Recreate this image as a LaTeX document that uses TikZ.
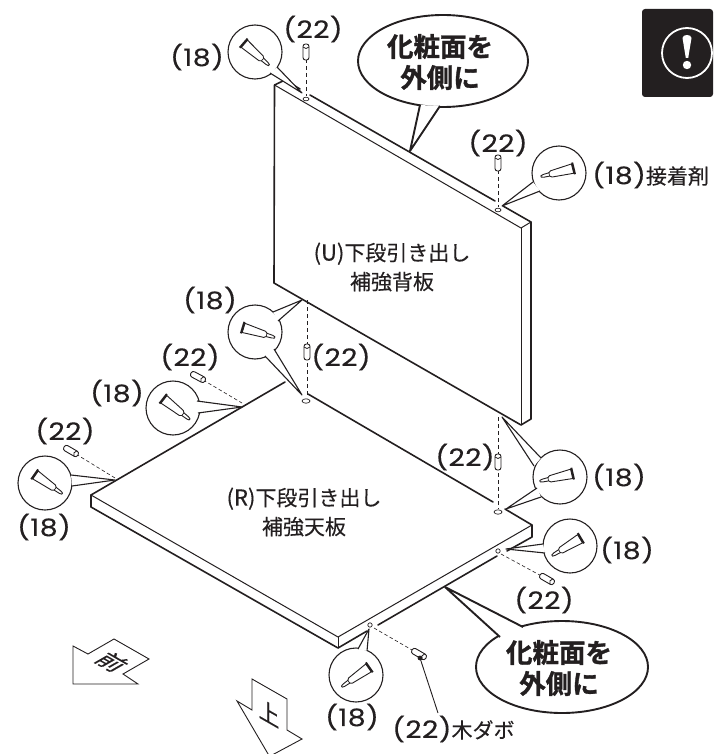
\documentclass[tikz,border=0pt]{standalone}
\usepackage{fontspec}
\setmainfont[FakeStretch=1.18,FakeBold=0.15,LetterSpace=1.5]{Poppins}
\newfontfamily\jp[FakeBold=0.25]{Noto Sans CJK JP}
\newfontfamily\jpb[FakeBold=1.2]{Noto Sans CJK JP Bold}
\newcommand\dg{\fontsize{24}{24}\selectfont}
\newcommand\jt[1]{{\fontsize{21}{24}\selectfont\jp #1}}
\definecolor{ink}{HTML}{231F20}
\tikzset{
  lab/.style={inner sep=0pt,text=ink,font=\dg},
  jlab/.style={inner sep=0pt,text=ink,font=\fontsize{21}{29}\selectfont\jp,align=center},
  bold/.style={inner sep=0pt,text=ink,font=\fontsize{26.5}{31}\selectfont\jpb,align=center},
  heavy/.style={draw=ink,line width=1.6pt,line cap=round,line join=round},
  thin/.style={draw=ink,line width=1pt,line cap=round,line join=round},
  bub/.style={draw=ink,line width=1.1pt,line join=round},
  big/.style={draw=ink,line width=1.9pt,line join=round},
  dashv/.style={draw=ink,line width=.8pt,dash pattern=on 4pt off 3pt},
  dashf/.style={draw=ink,line width=.6pt,dash pattern=on 3.5pt off 2.5pt},
  tube/.pic={
    \draw[draw=ink,line width=.9pt,fill=white,line join=round]
      (-14,-4.8) -- (8,-3.2) -- (10,-1.7) -- (16,-1.4) -- (18.5,-.7) -- (18.5,.7) -- (16,1.4) -- (10,1.7) -- (8,3.2) -- (-14,4.8) -- cycle;
    \draw[draw=ink,line width=.7pt] (10,-1.7) -- (10,1.7);
    \draw[draw=ink,line width=2pt] (-15,-6) -- (-15,6);
  },
  dowel/.pic={
    \draw[draw=ink,line width=.9pt,fill=white,rounded corners=2.5pt] (-8,-3) rectangle (8,3);
    \draw[draw=ink,line width=.8pt] (5,-3) .. controls (3,-1.5) and (3,1.5) .. (5,3);
  }
}
\newcommand\tailshape[3]{\fill[white] #1 -- #2 -- #3 -- cycle; \draw[bub] #1 -- #2 -- #3;}
\newcommand\glass[2]{\draw[bub,fill=white] #1 circle[radius=27];}
\begin{document}
\begin{tikzpicture}[x=1pt,y=-1pt]
\useasboundingbox (0,0) rectangle (713,754);
\clip (0,0) rectangle (713,754);

% warning icon
\fill[ink,rounded corners=3pt] (642,9) rectangle (713,97);
\draw[white,line width=1.8pt] (687,53) circle[radius=25];
\fill[white] (682.5,38) .. controls (682.5,34) and (691.5,34) .. (691.5,38) -- (688.2,58) -- (685.8,58) -- cycle;
\fill[white] (687,65) circle[radius=4.2];

% back board U
\draw[heavy] (285,80) -- (300,89);
\draw[heavy] (310,95) -- (495,201);
\draw[heavy] (503,206) -- (531,222) -- (531,419) -- (521,425) -- (274,283) -- (274.5,85) -- (285,80);
\draw[thin] (274.5,85) -- (521,228) -- (531,222);
\draw[thin] (521,228) -- (521,425);

% table board R
\draw[heavy] (91,495) -- (285,382);
\draw[heavy] (308,394) -- (493,502);
\draw[heavy] (505,509) -- (532,525) -- (532,537) -- (507,551);
\draw[heavy] (497,556) -- (378,625);
\draw[heavy] (367,631) -- (338,648) -- (91,507) -- (91,495);
\draw[thin] (91,495) -- (338,637) -- (532,525);
\draw[thin] (338,637) -- (338,648);

% holes
\draw[thin,line width=.7pt] (306,99) ellipse[x radius=3,y radius=1.8];
\draw[thin,line width=.7pt] (498,210) ellipse[x radius=3,y radius=1.8];
\draw[thin,line width=.7pt,fill=white] (306,401) ellipse[x radius=4,y radius=2.2];
\draw[thin,line width=.7pt,fill=white] (498,512) ellipse[x radius=4,y radius=2.2];
\draw[thin,line width=.7pt] (498,551) circle[radius=2.2];
\draw[thin,line width=.7pt] (370,625) circle[radius=2.2];

% named ends of the dashed lines
\coordinate (hA) at (306,96);
\coordinate (hB) at (498,207);
\coordinate (hC) at (307,398);
\coordinate (hD) at (498,509);
\coordinate (hE) at (242,403);
\coordinate (hF) at (115,478);
\coordinate (hG) at (501,554);
\coordinate (hH) at (374,628);
\coordinate (dA) at (306,52);
\coordinate (dB) at (498,163);
\coordinate (dC) at (307,352);
\coordinate (dD) at (498,462);
\coordinate (dE) at (198,377);
\coordinate (dF) at (71,451);
\coordinate (dG) at (547,579);
\coordinate (dH) at (419,654);
\coordinate (tC) at (307,300);
\coordinate (tD) at (498,417);

\draw[dashv] (dA) -- (hA);
\draw[dashv] (dB) -- (hB);
\draw[dashv] (tC) -- (hC);
\draw[dashv] (tD) -- (hD);
\draw[dashf] (dE) -- (hE);
\draw[dashf] (dF) -- (hF);
\draw[dashf] (hG) -- (dG);
\draw[dashf] (hH) -- (dH);

% dowels
\pic[shift={(dA)},rotate=90] {dowel};
\pic[shift={(dB)},rotate=90] {dowel};
\pic[shift={(dC)},rotate=90] {dowel};
\pic[shift={(dD)},rotate=90] {dowel};
\pic[shift={(dE)},rotate=-28] {dowel};
\pic[shift={(dF)},rotate=-30] {dowel};
\pic[shift={(dG)},rotate=-30] {dowel};
\pic[shift={(dH)},rotate=-30] {dowel};
\draw[draw=ink,line width=.9pt] (420,658) -- (438,713);
\fill[ink] (420,658) circle[radius=2.4];

% glue lenses
\glass{(255,52)}{}
\tailshape{(270,73)}{(302,93)}{(277,67)}
\pic[shift={(255,53)},rotate=-41] {tube};

\glass{(559,173)}{}
\tailshape{(533,182)}{(502,206)}{(540,191)}
\pic[shift={(559,172)},rotate=-166] {tube};

\glass{(255,332)}{}
\tailshape{(273,312)}{(302,300)}{(278,321)}
\tailshape{(274,349)}{(302,395)}{(265,356)}
\pic[shift={(257,332)},rotate=-17] {tube};

\glass{(173,408)}{}
\tailshape{(197,401)}{(242,407)}{(198,413)}
\pic[shift={(175,408)},rotate=-38] {tube};

\glass{(45,483)}{}
\tailshape{(71,475)}{(115,480)}{(72,486)}
\pic[shift={(47,483)},rotate=-35] {tube};

\glass{(560,477)}{}
\tailshape{(541,458)}{(502,417)}{(534,466)}
\tailshape{(537,488)}{(506,509)}{(541,497)}
\pic[shift={(558,477)},rotate=-167] {tube};

\glass{(570,546)}{}
\tailshape{(543,544)}{(506,549)}{(545,553)}
\pic[shift={(568,546)},rotate=-149] {tube};

\glass{(356,675)}{}
\tailshape{(358,649)}{(369,629)}{(367,651)}
\pic[shift={(357,676)},rotate=-145] {tube};

% speech bubbles
\draw[big,fill=white] (443,61) ellipse[x radius=85,y radius=46];
\fill[white] (420,105) -- (410,151) -- (440,106) -- cycle;
\draw[big] (420,105) -- (410,151) -- (440,106);
\node[bold] (bubA) at (440,62) {化粧面を\\外側に};

\draw[big,fill=white] (562,667) ellipse[x radius=86,y radius=46];
\fill[white] (500,637) -- (445,587) -- (523,627) -- cycle;
\draw[big] (500,637) -- (445,587) -- (523,627);
\node[bold] (bubB) at (559,668) {化粧面を\\外側に};

% arrows
\draw[draw=ink,line width=.9pt,line join=miter] (73,646) -- (88,654) -- (114,639) -- (149,659) -- (123,674) -- (138,684) -- (73,684) -- cycle;
\begin{scope}[shift={(112,662)},cm={.8,-.46,.8,.46,(0,0)}]
\node[transform shape,inner sep=0pt,text=ink,font=\fontsize{27}{27}\selectfont\jp] (front) {前};
\end{scope}
\draw[draw=ink,line width=.9pt,line join=miter] (252,679) -- (287,699) -- (287,730) -- (302,739) -- (269.5,756.4) -- (237,701) -- (252,710) -- cycle;
\begin{scope}[shift={(269,713)},cm={.87,-.5,0,1,(0,0)}]
\node[transform shape,inner sep=0pt,text=ink,font=\fontsize{24}{24}\selectfont\jp] (top) {上};
\end{scope}

% labels
\node[lab] (a1) at (197,57) {(18)};
\node[lab] (a2) at (313,29) {(22)};
\node[lab] (a3) at (498,143) {(22)};
\node[lab,anchor=west] (a4) at (592,175) {(18)\jt{接着剤}};
\node[lab] (a5) at (210,300) {(18)};
\node[lab] (a6) at (190,357) {(22)};
\node[lab] (a7) at (341,357) {(22)};
\node[lab] (a8) at (117,393) {(18)};
\node[lab] (a9) at (65,431) {(22)};
\node[lab] (a10) at (44,527) {(18)};
\node[lab] (a11) at (465,457) {(22)};
\node[lab] (a12) at (619,477) {(18)};
\node[lab] (a13) at (627,550) {(18)};
\node[lab] (a14) at (544,600) {(22)};
\node[lab] (a15) at (352,717) {(18)};
\node[lab,anchor=west] (a16) at (392,729) {(22)\jt{木ダボ}};
\node[jlab] (u) at (392,267) {{\dg\fontsize{22}{22}\selectfont (U)}下段引き出し\\補強背板};
\node[jlab] (r) at (304,512) {{\dg\fontsize{22}{22}\selectfont (R)}下段引き出し\\補強天板};
\end{tikzpicture}
\end{document}
